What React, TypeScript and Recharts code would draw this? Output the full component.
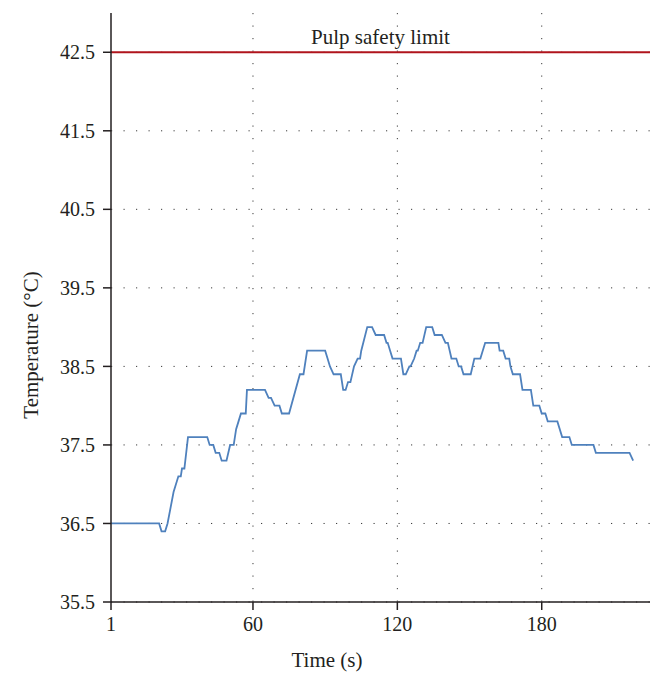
import React from "react";
import {
  LineChart,
  Line,
  XAxis,
  YAxis,
  CartesianGrid,
  ReferenceLine,
} from "recharts";

const times: number[] = [
  1, 21, 22, 23.5, 24.5, 27, 29, 30, 30.5, 31.5, 33, 41, 42, 43.5, 44.5, 46, 47, 49,
  50.5, 52, 53, 54, 55, 57, 57.5, 65, 66.5, 67.5, 69, 71, 72, 75, 79.5, 81, 82.5, 90,
  91, 92, 93.5, 96.5, 97.5, 98.5, 99.5, 100.5, 102, 103.5, 104.5, 105, 107.5, 109.5,
  111, 114.5, 115.5, 116, 117, 118, 121.5, 122.5, 123.5, 125, 125.5, 127, 128, 128.5,
  129.5, 130.5, 132, 134.5, 135.5, 138.5, 140, 141, 142.5, 144.5, 145.5, 146.5, 147.5,
  150.5, 152, 154.5, 156.5, 162, 162.5, 164, 165, 166.5, 167, 168, 171, 172, 175.5,
  176.5, 179, 180, 181.5, 182.5, 186.5, 188.5, 191.5, 192.5, 201.5, 202.5, 216.5, 218,
];

const temps: number[] = [
  36.5, 36.5, 36.4, 36.4, 36.5, 36.9, 37.1, 37.1, 37.2, 37.2, 37.6, 37.6, 37.5, 37.5,
  37.4, 37.4, 37.3, 37.3, 37.5, 37.5, 37.7, 37.8, 37.9, 37.9, 38.2, 38.2, 38.1, 38.1,
  38.0, 38.0, 37.9, 37.9, 38.4, 38.4, 38.7, 38.7, 38.6, 38.5, 38.4, 38.4, 38.2, 38.2,
  38.3, 38.3, 38.5, 38.6, 38.6, 38.7, 39.0, 39.0, 38.9, 38.9, 38.8, 38.8, 38.7, 38.6,
  38.6, 38.4, 38.4, 38.5, 38.5, 38.6, 38.7, 38.7, 38.8, 38.8, 39.0, 39.0, 38.9, 38.9,
  38.8, 38.8, 38.6, 38.6, 38.5, 38.5, 38.4, 38.4, 38.6, 38.6, 38.8, 38.8, 38.7, 38.7,
  38.6, 38.6, 38.5, 38.4, 38.4, 38.2, 38.2, 38.0, 38.0, 37.9, 37.9, 37.8, 37.8, 37.6,
  37.6, 37.5, 37.5, 37.4, 37.4, 37.3,
];

const xTicks: number[] = [1, 60, 120, 180];
const xGridValues: number[] = [60, 120, 180];
const yTicks: number[] = [35.5, 36.5, 37.5, 38.5, 39.5, 40.5, 41.5, 42.5];
const safetyLimit = 42.5;
const safetyLabel = "Pulp safety limit";
const xLabel = "Time (s)";
const yLabel = "Temperature (°C)";

const data = times.map((t, i) => ({ t, v: temps[i] }));

const FONT = "'Liberation Serif', 'DejaVu Serif', serif";
const AXIS = "#231f20";

const tickStyle = { fontFamily: FONT, fontSize: 20, fill: "#231f20" };

export default function App() {
  return (
    <div style={{ width: 656, height: 677 }}>
      <LineChart
        width={656}
        height={677}
        data={data}
        margin={{ top: 5, right: 14, bottom: 0, left: 0 }}
      >
        <CartesianGrid
          stroke="#3a3a3a"
          strokeDasharray="1.2 11.3"
          strokeWidth={1}
          verticalValues={xGridValues}
          horizontalValues={yTicks}
        />
        <XAxis
          dataKey="t"
          type="number"
          domain={[1, 225]}
          ticks={xTicks}
          tickFormatter={(v: number) => String(v)}
          stroke={AXIS}
          strokeWidth={1.5}
          tickSize={8}
          tickMargin={7}
          tick={tickStyle}
          height={83}
          label={(props: any) => {
            const vb = props.viewBox || {};
            return (
              <text
                x={319}
                y={vb.y + 65}
                textAnchor="middle"
                style={{ fontFamily: FONT, fontSize: 21, fill: "#231f20" }}
              >
                {xLabel}
              </text>
            );
          }}
        />
        <YAxis
          type="number"
          domain={[35.5, 43]}
          ticks={yTicks}
          tickFormatter={(v: number) => v.toFixed(1)}
          stroke={AXIS}
          strokeWidth={1.5}
          tickSize={8}
          tickMargin={8}
          tick={tickStyle}
          width={103}
          label={() => (
            <text
              x={0}
              y={0}
              transform="translate(30, 337) rotate(-90)"
              textAnchor="middle"
              style={{ fontFamily: FONT, fontSize: 21, fill: "#231f20" }}
            >
              {yLabel}
            </text>
          )}
        />
        <ReferenceLine
          y={safetyLimit}
          stroke="#b0141c"
          strokeWidth={2}
          ifOverflow="extendDomain"
          label={{
            value: safetyLabel,
            position: "top",
            offset: 8,
            style: { fontFamily: FONT, fontSize: 21, fill: "#231f20" },
          }}
        />
        <Line
          type="linear"
          dataKey="v"
          stroke="#4f81bd"
          strokeWidth={1.8}
          dot={false}
          isAnimationActive={false}
        />
      </LineChart>
    </div>
  );
}
